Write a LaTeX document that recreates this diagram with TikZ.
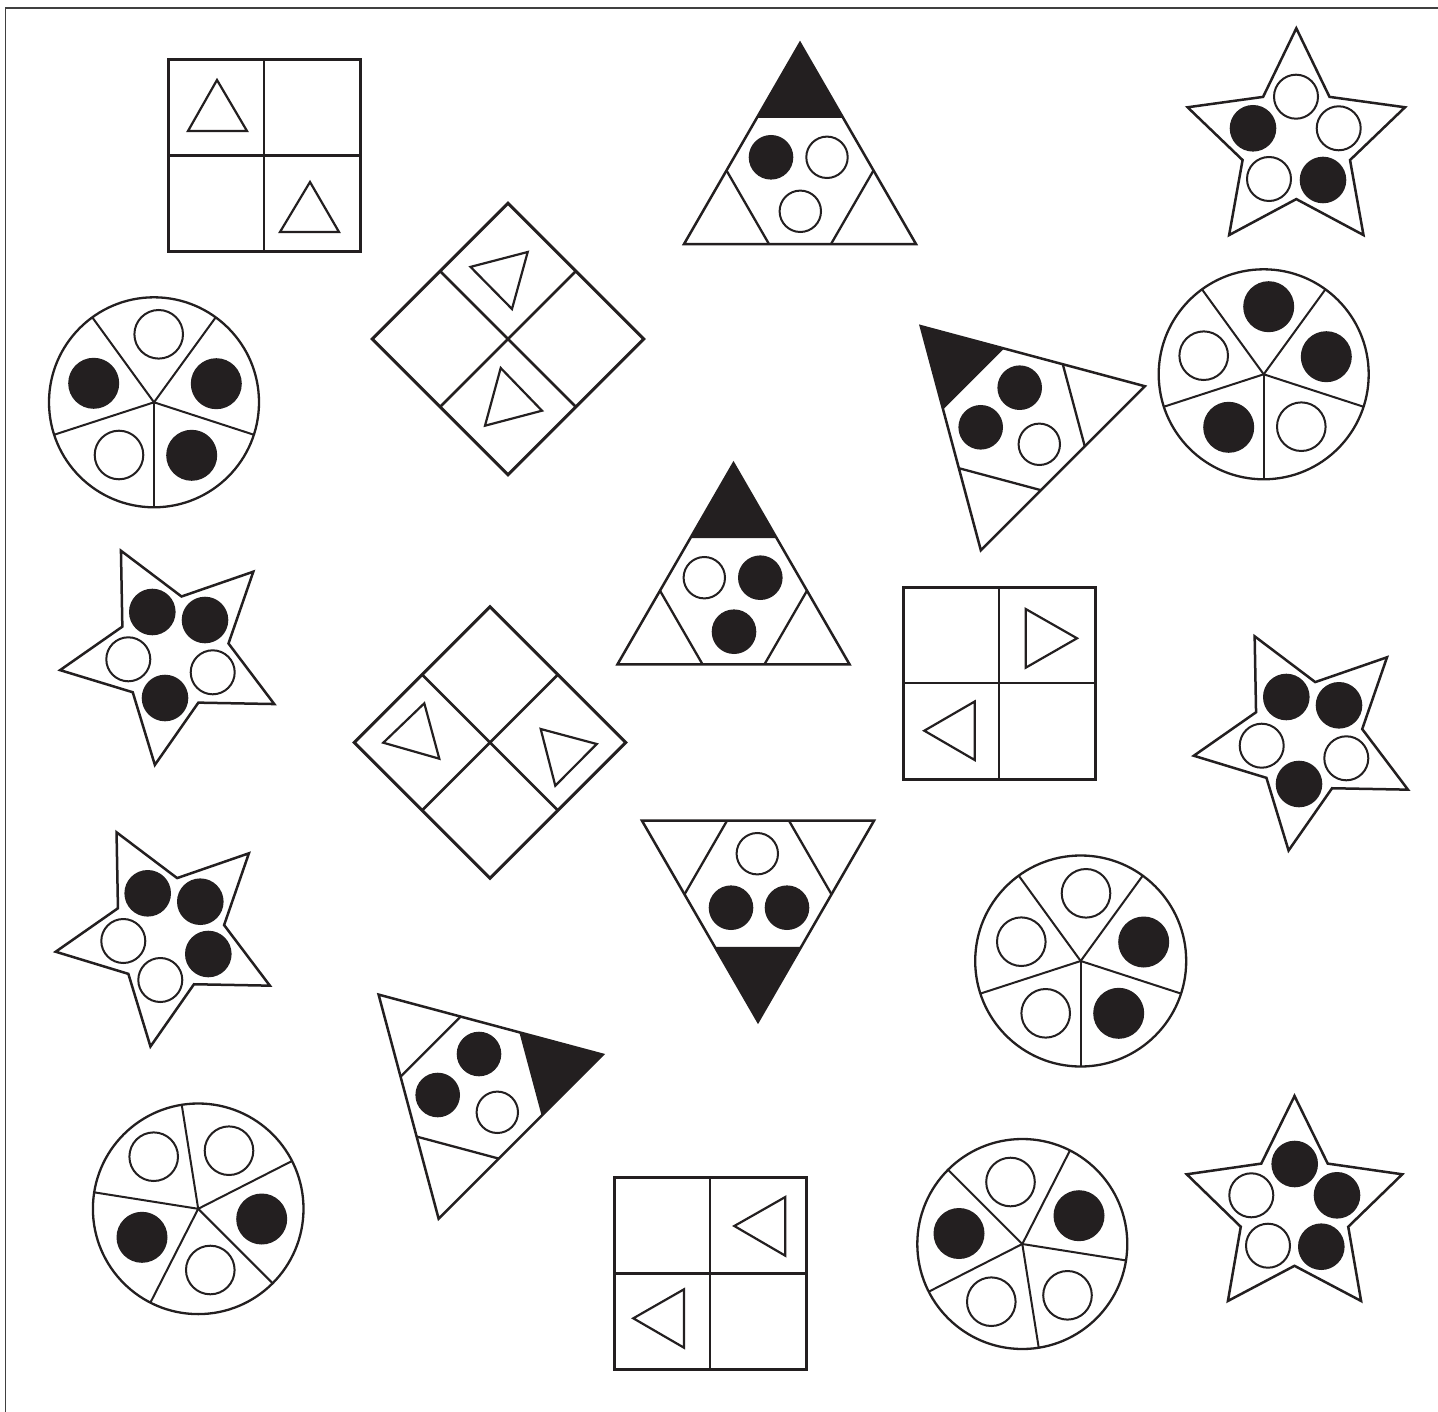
\documentclass[tikz,border=0pt]{standalone}
\definecolor{ink}{HTML}{231F20}
\tikzset{
  sqout/.style={draw=ink,line width=3pt,line join=miter},
  sqdiv/.style={draw=ink,line width=2.5pt},
  stri/.style={draw=ink,line width=2.2pt,line join=miter},
  triout/.style={draw=ink,line width=2.5pt,line join=miter},
  tridiv/.style={draw=ink,line width=2.3pt},
  pieout/.style={draw=ink,line width=2.3pt},
  piediv/.style={draw=ink,line width=2pt},
  starout/.style={draw=ink,line width=2.5pt,line join=miter},
  circl/.style={draw=ink,line width=2pt}
}
\newcommand\sqgrid[3]{%
  \begin{scope}[shift={(#1,#2)},rotate=#3]
    \draw[sqout] (-96,-96) -- (96,-96) -- (96,96) -- (-96,96) -- cycle;
    \draw[sqdiv] (0,-96) -- (0,96) (-96,0) -- (96,0);
  \end{scope}}
\newcommand\hattri[3]{%
  \begin{scope}[shift={(#1,#2)},rotate=#3]
    \fill[ink] (0,-133.95) -- (-42.5,-60.34) -- (42.5,-60.34) -- cycle;
    \draw[triout] (0,-133.95) -- (-116,66.98) -- (116,66.98) -- cycle;
    \draw[tridiv] (-42.5,-60.34) -- (42.5,-60.34)
                  (-73.5,-6.63) -- (-31,66.98)
                  (73.5,-6.63) -- (31,66.98);
  \end{scope}}
\newcommand\pieshape[4]{%
  \begin{scope}[shift={(#1,#2)}]
    \draw[pieout] (0,0) circle[radius=#3pt];
    \foreach \k in {0,...,4} \draw[piediv] (0,0) -- ({#4+36+72*\k-90}:#3);
  \end{scope}}
\newcommand\starshape[4]{%
  \begin{scope}[shift={(#1,#2)}]
    \draw[starout] ({#4-90}:#3)
      \foreach \k in {0,...,3}{ -- ({#4+36+72*\k-90}:56.5) -- ({#4+72*\k+72-90}:#3)}
      -- ({#4+36+288-90}:56.5) -- cycle;
  \end{scope}}
\newcommand\bc[3]{\fill[ink] (#1,#2) circle[radius=#3pt];}
\newcommand\wc[3]{\draw[circl] (#1,#2) circle[radius=#3pt];}
\begin{document}
\begin{tikzpicture}[x=1pt,y=-1pt]
\fill[white] (0,0) rectangle (1438,1412);
\useasboundingbox (0,0) rectangle (1438,1412);
\draw[line width=1.2pt,draw=black!75] (5.5,1412) -- (5.5,8) -- (1438,8);

% ---- squares with two small triangles
\sqgrid{264}{155.5}{0}
\draw[stri] (217,80) -- (188,131) -- (247,131) -- cycle;
\draw[stri] (310,182) -- (280,232) -- (339,232) -- cycle;
\sqgrid{508}{339}{45}
\draw[stri] (470.5,266.9) -- (527.7,252) -- (512,309) -- cycle;
\draw[stri] (500.7,368) -- (542,410.7) -- (485,425.7) -- cycle;
\sqgrid{999}{683}{0}
\draw[stri] (1025.7,609) -- (1077,638.3) -- (1025.7,667.7) -- cycle;
\draw[stri] (924.3,730.7) -- (974.7,701.5) -- (974.7,760) -- cycle;
\sqgrid{490}{742.5}{45}
\draw[stri] (424.3,703.3) -- (383.3,742.7) -- (439.3,758.7) -- cycle;
\draw[stri] (540.7,729) -- (596.7,744) -- (555.3,785.7) -- cycle;
\sqgrid{710}{1273.5}{0}
\draw[stri] (734.3,1226) -- (785.3,1197) -- (785.3,1255.7) -- cycle;
\draw[stri] (633.3,1318.3) -- (684,1289.3) -- (684,1347.7) -- cycle;

% ---- triangles with black tip and three circles
\hattri{800}{177.1}{0}
\bc{771}{157.3}{22.3} \wc{827}{157.3}{20.7} \wc{800.3}{211.3}{20.7}
\hattri{733.5}{597.3}{0}
\wc{704.3}{577.7}{20.7} \bc{760.3}{577.7}{22.3} \bc{734}{631.7}{22.3}
\hattri{758}{887.7}{180}
\wc{757.3}{853.7}{20.7} \bc{731}{907.7}{22.3} \bc{787}{907.7}{22.3}
\hattri{1015.5}{420.9}{45}
\bc{1019.7}{387.7}{22.3} \bc{980.7}{427.3}{22.3} \wc{1039.3}{444.3}{20.7}
\hattri{473.3}{1089.3}{-75}
\bc{479}{1054}{22.3} \bc{437.7}{1095}{22.3} \wc{497.3}{1112.3}{20.7}

% ---- circles with five sectors
\pieshape{154}{402.3}{105}{0}
\wc{158.7}{334.3}{24.3} \bc{216.3}{383.7}{25.5} \bc{191.7}{455.3}{25.5}
\wc{119}{455}{24.3} \bc{93.7}{383.3}{25.5}
\pieshape{1263.7}{374.3}{105}{0}
\bc{1268.7}{306.7}{25.5} \bc{1326.3}{356.7}{25.5} \wc{1301.3}{426.7}{24.3}
\bc{1228.7}{427.3}{25.5} \wc{1203.7}{355.7}{24.3}
\pieshape{1080.7}{961}{105.5}{0}
\wc{1086}{893.3}{24.3} \bc{1143.7}{942}{25.5} \bc{1118.7}{1013.3}{25.5}
\wc{1045.7}{1013.3}{24.3} \wc{1021.3}{941.7}{24.3}
\pieshape{198.2}{1208.8}{105.3}{-45}
\wc{153.7}{1156.7}{24.3} \wc{229}{1150.7}{24.3} \bc{261.7}{1219}{25.5}
\wc{210.3}{1270}{24.3} \bc{142}{1237.3}{25.5}
\pieshape{1022.3}{1244}{105}{-9}
\wc{1010.5}{1182}{24.3} \bc{1079}{1215.7}{25.5} \wc{1067.5}{1295.3}{24.3}
\wc{991.3}{1301.7}{24.3} \bc{959}{1233.5}{25.5}

% ---- stars
\starshape{1296.3}{142.6}{114.3}{0}
\wc{1296}{96.7}{22} \wc{1338.7}{128.3}{22} \bc{1253}{128.3}{23.3}
\wc{1269}{179}{22} \bc{1323}{180}{23.3}
\starshape{172.7}{652.3}{114}{-27}
\bc{152.3}{612}{23.3} \bc{205}{620}{23.3} \wc{128.3}{659.3}{22}
\wc{212.7}{672.3}{22} \bc{165}{698}{23.3}
\starshape{168.3}{933.9}{114}{-27}
\bc{147.7}{893.3}{23.3} \bc{200.3}{901.7}{23.3} \wc{123.3}{941}{22}
\bc{208.3}{954}{23.3} \wc{160.3}{980}{22}
\starshape{1306.4}{737.9}{114}{-27}
\bc{1286.3}{697}{23.3} \bc{1339}{705.3}{23.3} \wc{1261.7}{745.7}{22}
\wc{1346.3}{758.3}{22} \bc{1299}{784}{23.3}
\starshape{1294.5}{1209.3}{113.3}{0}
\bc{1294.7}{1164}{23.3} \bc{1337}{1195.3}{23.3} \wc{1251.3}{1195.3}{22}
\wc{1268}{1245.7}{22} \bc{1321.3}{1246.7}{23.3}
\end{tikzpicture}
\end{document}
